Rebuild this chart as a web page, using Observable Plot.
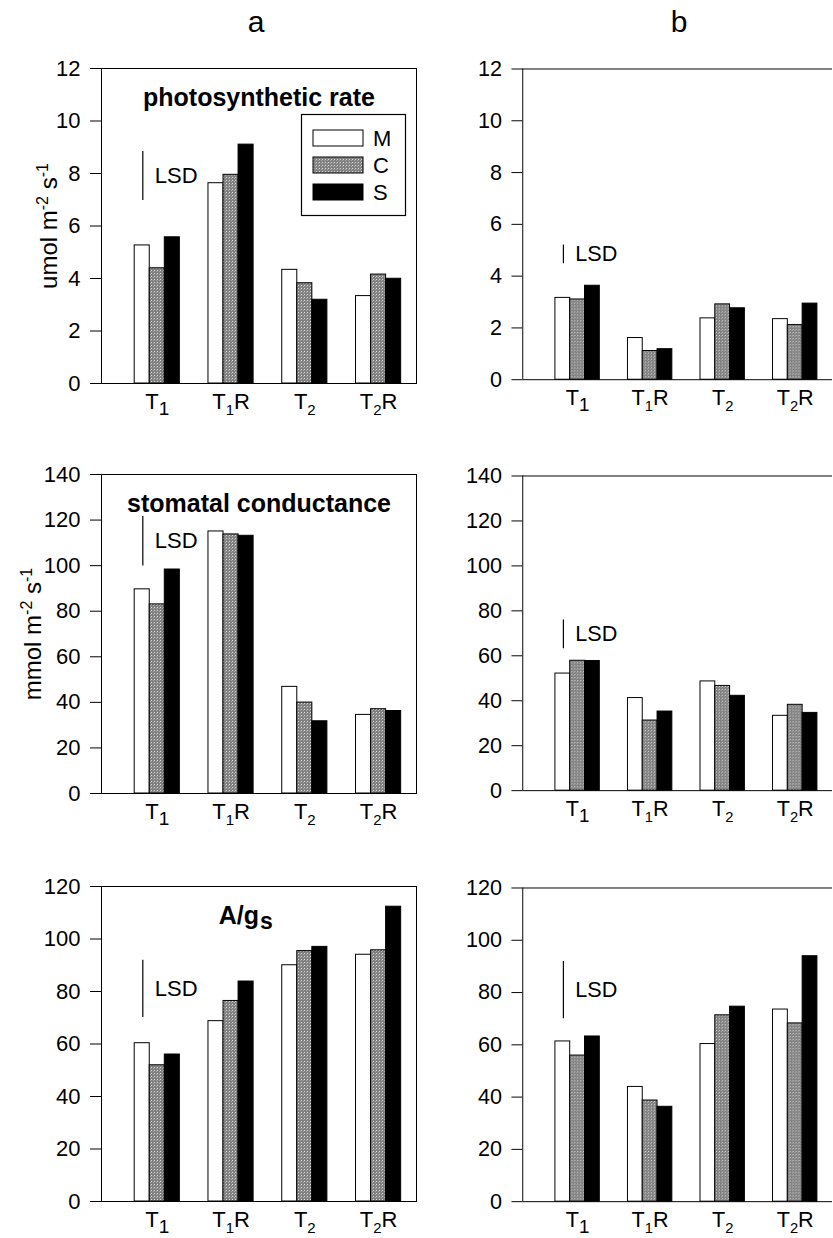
<!DOCTYPE html>
<html><head><meta charset="utf-8">
<script src="https://cdn.jsdelivr.net/npm/d3@7"></script>
<script src="https://cdn.jsdelivr.net/npm/@observablehq/plot@0.6"></script>
<style>
html,body{margin:0;padding:0;background:#fff;overflow:hidden;}
#wrap{position:relative;width:833px;height:1238px;overflow:hidden;font-family:"Liberation Sans",Arial,Helvetica,sans-serif;color:#000;}
.panel{position:absolute;}
.hdr{position:absolute;font-size:30px;transform:translate(-50%,-50%);line-height:1;}
</style></head><body>
<svg width="0" height="0" style="position:absolute">
  <defs>
    <pattern id="grayPat" width="3" height="3" patternUnits="userSpaceOnUse">
      <rect width="3" height="3" fill="#808080"/>
      <rect x="1" y="1" width="1" height="1" fill="#dcdcdc"/>
      <rect x="0" y="2" width="1" height="1" fill="#a8a8a8"/>
    </pattern>
  </defs>
</svg>
<div id="wrap"></div>
<script>
// ---- categories ----
const groups = ["T1", "T1R", "T2", "T2R"];   // digit drawn as subscript
const series = ["M", "C", "S"];
const columnHeads = ["a", "b"];

// ---- values: [M, C, S] each over groups T1, T1R, T2, T2R ----
const photoA = [[5.26, 7.63, 4.33, 3.33], [4.39, 7.95, 3.82, 4.15], [5.57, 9.10, 3.19, 3.99]];
const photoB = [[3.16, 1.61, 2.37, 2.34], [3.10, 1.11, 2.91, 2.11], [3.63, 1.18, 2.76, 2.94]];
const condA  = [[89.6, 115.0, 46.8, 34.5], [83.0, 113.7, 39.9, 37.0], [98.3, 113.1, 31.7, 36.2]];
const condB  = [[52.1, 41.2, 48.6, 33.3], [57.8, 31.2, 46.6, 38.2], [57.7, 35.2, 42.2, 34.6]];
const ratioA = [[60.3, 68.7, 90.0, 94.0], [51.9, 76.4, 95.4, 95.7], [56.0, 83.8, 97.0, 112.3]];
const ratioB = [[61.3, 43.9, 60.3, 73.5], [55.9, 38.7, 71.3, 68.2], [63.2, 36.3, 74.6, 93.9]];

// ---- LSD bars (low, high) per panel ----
const lsdLow  = [6.97, 4.48, 99.8, 63.1, 70.1, 70.0];
const lsdHigh = [8.84, 5.20, 121.6, 75.9, 91.9, 91.9];

// ---- axes ----
const yMaxes = [12, 140, 120];
const yStepsArr = [2, 20, 20];
const yLabels = ["umol m-2 s-1", "mmol m-2 s-1", null];   // exponents drawn as superscripts
const titles = ["photosynthetic rate", "stomatal conductance", "A/g"];

const panelValues = [photoA, photoB, condA, condB, ratioA, ratioB];
const fills = {M: "white", C: "url(#grayPat)", S: "black"};

// ---- layout (pixels) ----
const frameTops = [[68, 69], [474, 476], [886, 888]];
const frameBottoms = [[383, 385], [793, 796], [1201, 1207]];
const colLeft = [0, 420];
const colMarginLeft = [101, 104];
const colMarginRight = [4, 1];
const labelOffsets = [62, 78];
const FONT = '"Liberation Sans", Arial, Helvetica, sans-serif';
const bw = 0.204;           // bar width in group-step units
const xDomain = [-0.45, 3.82];
const subSizes = [19, 15, 15, 15];

const wrap = document.getElementById("wrap");

columnHeads.forEach((h, c) => {
  const d = document.createElement("div");
  d.className = "hdr";
  d.textContent = h;
  d.style.left = (c === 0 ? 256 : 679) + "px";
  d.style.top = "22px";
  wrap.appendChild(d);
});

for (let r = 0; r < 3; r++) {
  for (let c = 0; c < 2; c++) {
    const p = r * 2 + c;
    const vals = panelValues[p];
    const rows = [];
    groups.forEach((g, gi) => series.forEach((s, si) => rows.push({g, gi, s, si, v: vals[si][gi]})));
    const mt = 30, mb = 46;
    const ph = frameBottoms[r][c] - frameTops[r][c];
    const marks = [];
    for (const s of series) {
      marks.push(Plot.rectY(rows.filter(d => d.s === s), {
        x1: d => d.gi + d.si * bw,
        x2: d => d.gi + (d.si + 1) * bw,
        y: "v",
        fill: fills[s],
        stroke: "black",
        strokeWidth: 1
      }));
    }
    // LSD
    const lsd = [{lo: lsdLow[p], hi: lsdHigh[p], mid: (lsdLow[p] + lsdHigh[p]) / 2, x: 0.11}];
    marks.push(Plot.ruleX(lsd, {x: "x", y1: "lo", y2: "hi", stroke: "black", strokeWidth: 1.2}));
    marks.push(Plot.text(lsd, {x: "x", y: "mid", text: () => "LSD", textAnchor: "start", dx: 12, fontSize: 22}));
    // titles
    if (c === 0) {
      if (r < 2) {
        marks.push(Plot.text([titles[r]], {frameAnchor: "top", dy: 20, fontSize: 25, fontWeight: "bold"}));
      } else {
        marks.push(Plot.text([titles[r]], {frameAnchor: "top", dy: 20, textAnchor: "end", fontSize: 25, fontWeight: "bold"}));
        marks.push(Plot.text(["s"], {frameAnchor: "top", dy: 26, dx: 1, textAnchor: "start", fontSize: 23, fontWeight: "bold"}));
      }
    }
    if (c === 0) {
      marks.push(Plot.frame({stroke: "black", strokeWidth: 1}));
    } else {
      marks.push(Plot.ruleY([0, yMaxes[r]], {stroke: "black", strokeWidth: 1}));
      marks.push(Plot.ruleX([xDomain[0]], {stroke: "black", strokeWidth: 1}));
    }
    marks.push(Plot.axisY({
      ticks: d3.range(0, yMaxes[r] + 1, yStepsArr[r]),
      tickSize: 11, tickPadding: 10, fontSize: 22,
      label: c === 0 ? yLabels[r] : null, labelAnchor: "center",
      labelOffset: labelOffsets[r] || 60, labelArrow: false
    }));
    marks.push(Plot.axisX({
      ticks: groups.map((g, i) => i + 1.5 * bw),
      tickFormat: t => groups[Math.round(t - 1.5 * bw)],
      tickSize: 0, tickPadding: 10, fontSize: 22, label: null
    }));
    const chart = Plot.plot({
      width: 420,
      height: ph + mt + mb,
      marginTop: mt, marginBottom: mb,
      marginLeft: colMarginLeft[c], marginRight: colMarginRight[c],
      style: {fontFamily: FONT, fontSize: "22px", color: "black", background: "white", overflow: "visible"},
      x: {type: "linear", domain: xDomain},
      y: {domain: [0, yMaxes[r]]},
      marks
    });
    const svg = d3.select(chart);
    // subscripts in x tick labels
    svg.selectAll('g[aria-label="x-axis tick label"] text').each(function () {
      const t = this.textContent;
      const m = t.match(/^T(\d)(R?)$/);
      if (!m) return;
      const gi = groups.indexOf(t);
      const el = d3.select(this);
      el.text(null);
      el.append("tspan").text("T");
      el.append("tspan").attr("dy", 6).attr("font-size", subSizes[gi] || 15).text(m[1]);
      if (m[2]) el.append("tspan").attr("dy", -6).text(m[2]);
    });
    // superscripts in y label
    svg.selectAll('g[aria-label="y-axis label"] text').each(function () {
      const t = this.textContent;
      const m = t.match(/^(\w+ m)(-2) (s)(-1)$/);
      if (!m) return;
      const el = d3.select(this);
      el.attr("font-size", 24).style("font-size", "24px");
      el.text(null);
      el.append("tspan").text(m[1]);
      el.append("tspan").attr("dy", -9).attr("font-size", 16).text(m[2]);
      el.append("tspan").attr("dy", 9).text(" " + m[3]);
      el.append("tspan").attr("dy", -9).attr("font-size", 16).text(m[4]);
    });
    const holder = document.createElement("div");
    holder.className = "panel";
    holder.style.left = colLeft[c] + "px";
    holder.style.top = (frameTops[r][c] - mt) + "px";
    holder.appendChild(chart);
    wrap.appendChild(holder);
  }
}

// legend (first panel)
const leg = d3.create("svg").attr("width", 108).attr("height", 104)
  .style("position", "absolute").style("left", "300px").style("top", "113px").style("overflow", "visible");
leg.append("rect").attr("x", 1.5).attr("y", 1.5).attr("width", 104).attr("height", 101)
  .attr("fill", "white").attr("stroke", "black").attr("stroke-width", 1.2);
series.forEach((s, i) => {
  const y = 17 + i * 27;
  leg.append("rect").attr("x", 13).attr("y", y).attr("width", 50).attr("height", 16)
    .attr("fill", fills[s]).attr("stroke", "black").attr("stroke-width", 1);
  leg.append("text").attr("x", 73).attr("y", y + 8).attr("dy", "0.36em")
    .attr("font-size", 22).attr("font-family", FONT).text(s);
});
wrap.appendChild(leg.node());
</script>
</body></html>
